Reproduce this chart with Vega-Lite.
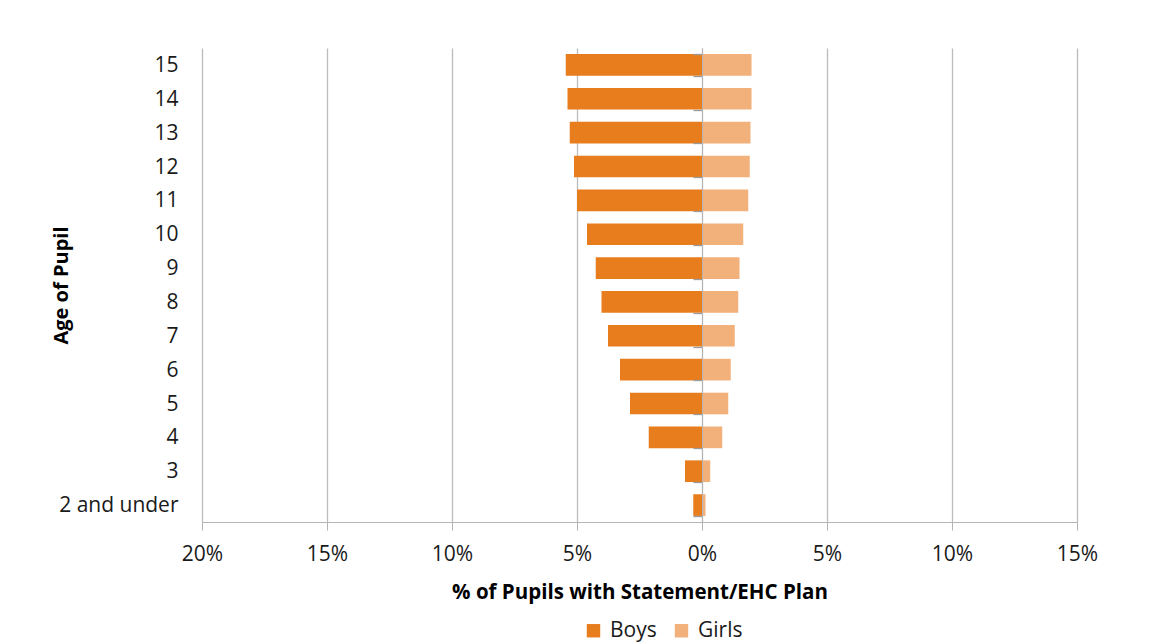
{
  "$schema": "https://vega.github.io/schema/vega-lite/v6.json",
  "width": 875,
  "height": 474,
  "autosize": {"type": "none"},
  "padding": {"left": 202, "top": 48, "right": 91, "bottom": 122},
  "background": "white",
  "data": {
    "values": [
      {"age": "15", "sex": "Boys", "pct": 5.45},
      {"age": "14", "sex": "Boys", "pct": 5.38},
      {"age": "13", "sex": "Boys", "pct": 5.29},
      {"age": "12", "sex": "Boys", "pct": 5.12},
      {"age": "11", "sex": "Boys", "pct": 5.0},
      {"age": "10", "sex": "Boys", "pct": 4.6},
      {"age": "9", "sex": "Boys", "pct": 4.25},
      {"age": "8", "sex": "Boys", "pct": 4.02},
      {"age": "7", "sex": "Boys", "pct": 3.76},
      {"age": "6", "sex": "Boys", "pct": 3.28},
      {"age": "5", "sex": "Boys", "pct": 2.88},
      {"age": "4", "sex": "Boys", "pct": 2.13},
      {"age": "3", "sex": "Boys", "pct": 0.68},
      {"age": "2 and under", "sex": "Boys", "pct": 0.35},
      {"age": "15", "sex": "Girls", "pct": 1.98},
      {"age": "14", "sex": "Girls", "pct": 1.98},
      {"age": "13", "sex": "Girls", "pct": 1.94},
      {"age": "12", "sex": "Girls", "pct": 1.91},
      {"age": "11", "sex": "Girls", "pct": 1.85},
      {"age": "10", "sex": "Girls", "pct": 1.65},
      {"age": "9", "sex": "Girls", "pct": 1.5},
      {"age": "8", "sex": "Girls", "pct": 1.45},
      {"age": "7", "sex": "Girls", "pct": 1.31},
      {"age": "6", "sex": "Girls", "pct": 1.15},
      {"age": "5", "sex": "Girls", "pct": 1.05},
      {"age": "4", "sex": "Girls", "pct": 0.81},
      {"age": "3", "sex": "Girls", "pct": 0.33},
      {"age": "2 and under", "sex": "Girls", "pct": 0.14}
    ]
  },
  "transform": [
    {"calculate": "datum.sex === 'Boys' ? -datum.pct : datum.pct", "as": "signed"}
  ],
  "encoding": {
    "y": {
      "field": "age",
      "type": "nominal",
      "sort": ["15", "14", "13", "12", "11", "10", "9", "8", "7", "6", "5", "4", "3", "2 and under"],
      "scale": {"paddingInner": 0.36, "paddingOuter": 0.18}
    },
    "x": {
      "field": "signed",
      "type": "quantitative",
      "scale": {"domain": [-20, 15], "nice": false, "zero": false},
      "axis": {
        "values": [-20, -15, -10, -5, 0, 5, 10, 15],
        "labelExpr": "abs(datum.value) + '%'",
        "labelFlush": false,
        "title": "% of Pupils with Statement/EHC Plan",
        "titleFont": "Open Sans",
        "titleFontSize": 20.5,
        "titleFontWeight": "bold",
        "titleColor": "#000000",
        "titleY": 70,
        "titleBaseline": "middle",
        "labelFont": "Open Sans",
        "labelFontSize": 21,
        "labelColor": "#1a1a1a",
        "labelPadding": 13,
        "tickSize": 8,
        "tickColor": "#b4b4b4",
        "domainColor": "#b4b4b4",
        "grid": true,
        "gridColor": "#bcbcbc",
        "gridWidth": 1.3
      }
    },
    "color": {
      "field": "sex",
      "type": "nominal",
      "scale": {"domain": ["Boys", "Girls"], "range": ["#e87d1e", "#f2b07b"]},
      "legend": {
        "orient": "none",
        "direction": "horizontal",
        "legendX": 381,
        "legendY": 572,
        "title": null,
        "symbolType": "square",
        "symbolSize": 180,
        "symbolStrokeWidth": 0,
        "labelFont": "Open Sans",
        "labelFontSize": 21,
        "labelColor": "#1a1a1a",
        "labelOffset": 6,
        "columnPadding": 14,
        "padding": 0
      }
    }
  },
  "layer": [
    {
      "transform": [{"filter": "datum.sex === 'Boys'"}],
      "mark": {"type": "bar"},
      "encoding": {
        "y": {
          "field": "age",
          "type": "nominal",
          "sort": ["15", "14", "13", "12", "11", "10", "9", "8", "7", "6", "5", "4", "3", "2 and under"],
          "axis": {
            "title": "Age of Pupil",
            "titleFont": "Open Sans",
            "titleFontSize": 20,
            "titleFontWeight": "bold",
            "titleColor": "#000000",
            "titleAngle": -90,
            "titleX": -141,
            "titleY": 237,
            "titleAlign": "center",
            "titleBaseline": "middle",
            "labelFont": "Open Sans",
            "labelFontSize": 21,
            "labelColor": "#1a1a1a",
            "labelPadding": 24,
            "labelOffset": 1,
            "ticks": false,
            "tickSize": 0,
            "domain": false
          }
        }
      }
    },
    {
      "transform": [{"filter": "datum.sex === 'Girls'"}],
      "mark": {"type": "bar"},
      "encoding": {
        "y": {
          "field": "age",
          "type": "nominal",
          "sort": ["15", "14", "13", "12", "11", "10", "9", "8", "7", "6", "5", "4", "3", "2 and under"],
          "axis": {
            "orient": "left",
            "offset": -500,
            "title": null,
            "labels": false,
            "domain": true,
            "domainColor": "#b4b4b4",
            "ticks": true,
            "tickBand": "extent",
            "tickSize": 9,
            "tickColor": "#9a9a9a",
            "tickWidth": 1.3,
            "zindex": 1
          }
        }
      }
    }
  ],
  "resolve": {"axis": {"y": "independent"}},
  "config": {
    "view": {"stroke": null},
    "font": "Open Sans"
  }
}
